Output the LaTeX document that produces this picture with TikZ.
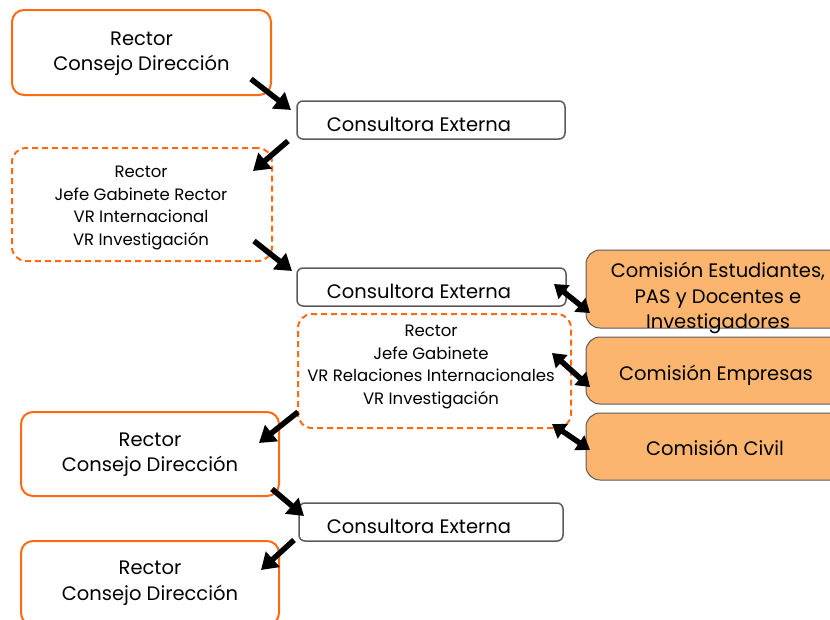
\documentclass[tikz,border=0pt]{standalone}
\usepackage{fontspec}
\setmainfont{Poppins}
\usetikzlibrary{arrows.meta}
\definecolor{oline}{HTML}{FF6A10}
\definecolor{ofill}{HTML}{FBB56E}
\definecolor{gline}{HTML}{5A5A5A}
\tikzset{
  solidbox/.style={draw=oline, line width=2pt, rounded corners=12pt, align=center, inner sep=0pt},
  dashbox/.style={draw=oline, line width=2pt, dash pattern=on 6pt off 4pt, rounded corners=14pt, align=center, inner sep=0pt},
  consbox/.style={draw=gline, line width=1.5pt, rounded corners=6pt, inner sep=0pt},
  combox/.style={draw=gline, fill=ofill, line width=1pt, rounded corners=14pt, align=center, inner sep=0pt},
  bigtxt/.style={align=center, inner sep=0pt, font=\fontsize{19.5}{25.5}\selectfont},
  smtxt/.style={align=center, inner sep=0pt, font=\fontsize{16.5}{22.5}\selectfont},
  arr/.style={line width=5.5pt, -{Triangle[length=16pt,width=20pt]}},
  darr/.style={line width=5.5pt, {Triangle[length=13pt,width=17pt]}-{Triangle[length=13pt,width=17pt]}},
}
\begin{document}
\begin{tikzpicture}[x=1pt,y=-1pt]
\useasboundingbox (0,0) rectangle (830,619);
\begin{scope}
\clip (0,0) rectangle (830,619);
% boxes
\node[solidbox, minimum width=259pt, minimum height=85pt] (r1) at (141.5,52.5) {};
\node[bigtxt] at (141.5,53.5) {Rector\\Consejo Dirección};
\node[consbox, minimum width=268pt, minimum height=38pt] (c1) at (431,120) {};
\node[bigtxt] (c1t) at (419,124) {Consultora Externa};
\node[dashbox, minimum width=260pt, minimum height=113pt] (d1) at (142,204.5) {};
\node[smtxt] at (141,208) {Rector\\Jefe Gabinete Rector\\VR Internacional\\VR Investigación};
\node[consbox, minimum width=269pt, minimum height=38pt] (c2) at (431.5,287) {};
\node[bigtxt] (c2t) at (419,291) {Consultora Externa};
\node[dashbox, minimum width=273pt, minimum height=114pt] (d2) at (434.5,371) {};
\node[smtxt] at (431,367) {Rector\\Jefe Gabinete\\VR Relaciones Internacionales\\VR Investigación};
\node[combox, minimum width=260pt, minimum height=78pt] (e1) at (716,289) {};
\node[bigtxt] at (718,298) {Comisión Estudiantes,\\PAS y Docentes e\\Investigadores};
\node[combox, minimum width=260pt, minimum height=67pt] (e2) at (716,370.5) {};
\node[bigtxt] at (716,375) {Comisión Empresas};
\node[combox, minimum width=260pt, minimum height=67pt] (e3) at (716,446.5) {};
\node[bigtxt] at (715,448) {Comisión Civil};
\node[solidbox, minimum width=258pt, minimum height=84pt] (r2) at (150,454) {};
\node[bigtxt] at (150,454.5) {Rector\\Consejo Dirección};
\node[consbox, minimum width=264pt, minimum height=38pt] (c3) at (431,522) {};
\node[bigtxt] (c3t) at (419,526) {Consultora Externa};
\node[solidbox, minimum width=258pt, minimum height=84pt] (r3) at (150,583) {};
\node[bigtxt] at (150,583) {Rector\\Consejo Dirección};
% arrows
\coordinate (a1s) at (251,79); \coordinate (a1e) at (291,110);
\coordinate (a2s) at (288,141); \coordinate (a2e) at (253,171);
\coordinate (a3s) at (254,241); \coordinate (a3e) at (292,271);
\coordinate (a4s) at (298,412); \coordinate (a4e) at (259,443);
\coordinate (a5s) at (272,489); \coordinate (a5e) at (304,516);
\coordinate (a6s) at (294,540); \coordinate (a6e) at (261,570);
\draw[arr] (a1s) -- (a1e);
\draw[arr] (a2s) -- (a2e);
\draw[arr] (a3s) -- (a3e);
\draw[arr] (a4s) -- (a4e);
\draw[arr] (a5s) -- (a5e);
\draw[arr] (a6s) -- (a6e);
\coordinate (b1s) at (554,284); \coordinate (b1e) at (590,313);
\coordinate (b2s) at (552,353); \coordinate (b2e) at (590,387);
\coordinate (b3s) at (552,424); \coordinate (b3e) at (590,450);
\draw[darr] (b1s) -- (b1e);
\draw[darr] (b2s) -- (b2e);
\draw[darr] (b3s) -- (b3e);
\end{scope}
\end{tikzpicture}
\end{document}
